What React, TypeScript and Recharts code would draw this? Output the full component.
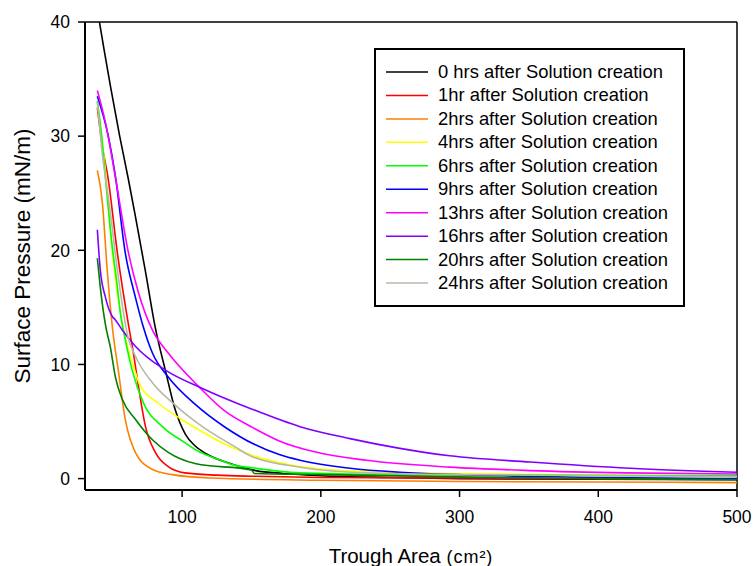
import React from 'react';
import { LineChart, Line, XAxis, YAxis, ReferenceLine, Legend } from 'recharts';

// [trough area (cm²), surface pressure (mN/m)]
const hrs0 = [[40.4, 40], [44, 37.4], [48.3, 34.4], [55, 30.0], [61.3, 26.2], [66.3, 23.0], [73.5, 18.2], [80.7, 13.2], [87.9, 9.5], [95.1, 6.0], [102.3, 3.9], [109, 2.9], [117, 2.2], [135, 1.3], [153, 0.7], [173, 0.45], [200, 0.25], [250, 0.1], [300, 0], [400, -0.05], [500, -0.1]];
const hrs1 = [[38.9, 32.5], [42, 29.5], [46.8, 26.2], [53.3, 19.8], [61.3, 13.5], [64.9, 11.0], [68.5, 8.1], [73.5, 4.6], [80.7, 2.3], [90, 1.05], [102, 0.5], [125, 0.3], [153, 0.2], [200, 0.1], [300, 0.05], [400, 0], [500, -0.05]];
const hrs2 = [[38.9, 27], [42.5, 24.2], [46, 18.3], [49.7, 13.3], [54, 9.5], [59, 5.2], [66.3, 2.3], [78.6, 0.8], [93, 0.35], [120, 0.05], [200, -0.15], [300, -0.25], [400, -0.3], [500, -0.35]];
const hrs4 = [[39, 33], [44.7, 27], [49.7, 19.8], [57, 13.5], [64, 10.2], [70, 8.1], [83, 6.6], [102, 5.0], [113, 4.2], [131, 3.0], [149, 2.1], [185, 1.05], [233, 0.6], [293, 0.45], [400, 0.3], [500, 0.2]];
const hrs6 = [[38.9, 33.1], [42, 30], [45, 26], [49, 21], [53.3, 16.8], [55.5, 14.5], [59, 12.2], [64, 9.5], [72, 6.65], [85.8, 4.55], [102, 3.15], [113, 2.3], [126, 1.7], [137, 1.2], [150, 0.95], [185, 0.5], [250, 0.35], [350, 0.3], [500, 0.25]];
const hrs9 = [[38.9, 33.5], [46.8, 30], [51.9, 26.5], [59, 19.8], [66.3, 15.9], [72, 13.3], [78.6, 11], [90, 8.9], [109.5, 6.5], [131, 4.5], [152, 3.0], [170, 2.1], [185, 1.6], [221, 0.9], [257, 0.55], [350, 0.2], [500, 0]];
const hrs13 = [[38.9, 34], [44.7, 31.2], [51.9, 26.4], [61.3, 19.8], [68.5, 16.3], [78.6, 13.0], [90, 11], [110, 8.3], [131, 5.9], [152, 4.4], [170, 3.3], [197, 2.3], [233, 1.6], [293, 1.0], [351, 0.7], [420, 0.5], [500, 0.4]];
const hrs16 = [[38.9, 21.8], [41, 18.3], [44.7, 15.9], [49.7, 14.2], [51.9, 13.9], [57, 13.0], [66.3, 11.6], [88, 9.5], [114.6, 7.9], [150, 6.1], [185, 4.55], [221, 3.5], [257, 2.65], [293, 2.0], [351, 1.45], [423, 0.9], [500, 0.55]];
const hrs20 = [[38.9, 19.3], [41, 16.8], [44.7, 13.5], [48.3, 11.5], [51.9, 8.9], [57, 6.9], [66.3, 5.2], [78.6, 3.4], [90, 2.3], [110, 1.3], [150, 0.75], [152, 0.45], [200, 0.35], [300, 0.15], [400, 0], [500, -0.1]];
const hrs24 = [[38.9, 33], [42, 29], [48.3, 23.3], [53.3, 18.3], [61, 12.4], [66, 10.8], [78.6, 8.4], [93, 6.65], [114.6, 4.55], [138, 2.8], [149, 2.0], [185, 1.0], [233, 0.5], [300, 0.35], [400, 0.25], [500, 0.15]];

const seriesNames = [
  '0 hrs after Solution creation', '1hr after Solution creation', '2hrs after Solution creation',
  '4hrs after Solution creation', '6hrs after Solution creation', '9hrs after Solution creation',
  '13hrs after Solution creation', '16hrs after Solution creation', '20hrs after Solution creation',
  '24hrs after Solution creation',
];
const seriesColors = ['#000000', '#ff0000', '#ff8000', '#ffff00', '#00ff00', '#0000ff', '#ff00ff', '#8000ff', '#008000', '#b8b8a8'];
const seriesData = [hrs0, hrs1, hrs2, hrs4, hrs6, hrs9, hrs13, hrs16, hrs20, hrs24];

const xTicks = [100, 200, 300, 400, 500];
const yTicks = [0, 10, 20, 30, 40];

const FONT = 'Arial, "Liberation Sans", sans-serif';

const LegendBox = () => (
  <svg width={311} height={259} style={{ display: 'block' }}>
    <rect x={1} y={1} width={309} height={257} fill="#fff" stroke="#000" strokeWidth={2} />
    {seriesNames.map((n, i) => {
      const cy = 24 + i * 23.45;
      return (
        <g key={n}>
          <line x1={12} x2={54} y1={cy} y2={cy} stroke={seriesColors[i]} strokeWidth={1.5} />
          <text x={64} y={cy + 6} fontSize={18.4} fontFamily={FONT} fill="#000">{n}</text>
        </g>
      );
    })}
  </svg>
);

const XLabel = (props: any) => {
  const vb = props.viewBox;
  return (
    <text x={vb.x + vb.width / 2} y={vb.y + 73} textAnchor="middle" fontFamily={FONT} fill="#000">
      <tspan fontSize={20.5}>Trough Area </tspan>
      <tspan fontSize={18} letterSpacing={1}>(cm²)</tspan>
    </text>
  );
};

const YLabel = (props: any) => {
  const vb = props.viewBox;
  const cy = vb.y + vb.height / 2;
  return (
    <text x={30} y={cy} transform={`rotate(-90, 30, ${cy})`} textAnchor="middle" fontSize={22.5} fontFamily={FONT} fill="#000">
      Surface Pressure (mN/m)
    </text>
  );
};

export default function App() {
  return (
    <div style={{ position: 'absolute', left: 0, top: 0, background: '#fff' }}>
      <LineChart width={754} height={566} margin={{ top: 22, right: 17, left: 0, bottom: 0 }}>
        <XAxis
          type="number" dataKey="x" domain={[30, 500]} ticks={xTicks} allowDataOverflow
          height={76} tickSize={7} tickMargin={14}
          axisLine={{ stroke: '#000', strokeWidth: 2 }} tickLine={{ stroke: '#000', strokeWidth: 1.5 }}
          tick={{ fill: '#000', fontSize: 17.5, fontFamily: FONT }}
          label={<XLabel />}
        />
        <YAxis
          type="number" dataKey="y" domain={[-1, 40]} ticks={yTicks} allowDataOverflow
          width={85} tickSize={7} tickMargin={8}
          axisLine={{ stroke: '#000', strokeWidth: 2 }} tickLine={{ stroke: '#000', strokeWidth: 1.5 }}
          tick={{ fill: '#000', fontSize: 17.5, fontFamily: FONT }}
          label={<YLabel />}
        />
        <ReferenceLine y={40} stroke="#000" strokeWidth={1.5} />
        <ReferenceLine x={500} stroke="#000" strokeWidth={1.5} />
        {seriesData.map((d, i) => (
          <Line
            key={seriesNames[i]}
            name={seriesNames[i]}
            data={d.map(([x, y]) => ({ x, y }))}
            dataKey="y"
            type="monotone"
            stroke={seriesColors[i]}
            strokeWidth={1.6}
            dot={false}
            activeDot={false}
            isAnimationActive={false}
          />
        ))}
        <Legend
          layout="vertical" align="center" verticalAlign="middle"
          content={<LegendBox />}
          wrapperStyle={{ position: 'absolute', left: 374, top: 48, width: 311, height: 259 }}
        />
      </LineChart>
    </div>
  );
}
